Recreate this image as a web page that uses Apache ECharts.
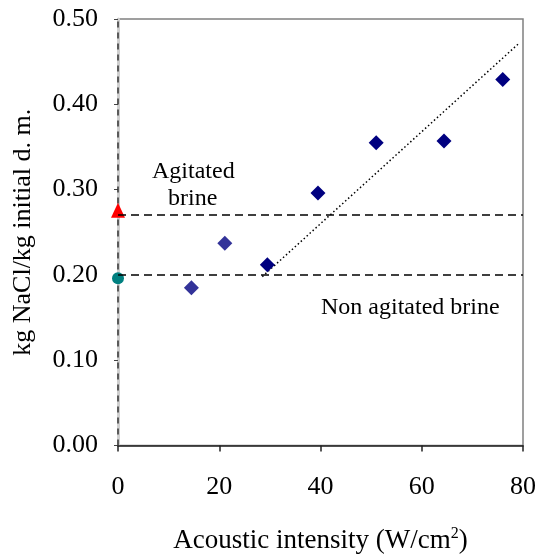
<!DOCTYPE html>
<html>
<head>
<meta charset="utf-8">
<script src="https://cdn.jsdelivr.net/npm/echarts@6/dist/echarts.min.js"></script>
<style>
  html, body { margin: 0; padding: 0; background: #fff; }
  #chart { width: 539px; height: 559px; }
</style>
</head>
<body>
<div id="chart"></div>
<script>
// measured points, first two lighter
var lowPoints = [[14.5, 0.185], [21.1, 0.237]];
var highPoints = [[29.5, 0.212], [39.5, 0.296], [51.0, 0.355], [64.4, 0.357], [76.0, 0.429]];
// trend line ends
var trendLine = [[28.5, 0.198], [79.3, 0.472]];
// reference levels at zero intensity
var agitated = [[0, 0.27]];
var nonAgitated = [[0, 0.196]];
var agitatedLevel = 0.27;
var nonAgitatedLevel = 0.197;

var font = 'Liberation Serif';
var chart = echarts.init(document.getElementById('chart'));

var option = {
  animation: false,
  grid: {
    left: 118, right: 14, top: 19, bottom: 112,
    show: true, borderColor: '#808080', borderWidth: 1.5
  },
  xAxis: {
    type: 'value',
    min: 0, max: 80, interval: 20,
    name: 'Acoustic intensity (W/cm{sup|2})',
    nameLocation: 'middle',
    nameGap: 80,
    nameTextStyle: {
      fontFamily: font, fontSize: 27, color: '#000',
      rich: { sup: { fontFamily: font, fontSize: 16, verticalAlign: 'top', padding: [0, 0, 14, 0] } }
    },
    splitLine: { show: false },
    axisLine: { lineStyle: { color: '#222', width: 1.5 } },
    axisTick: { inside: false, length: 6, lineStyle: { color: '#222', width: 1.5 } },
    axisLabel: { fontFamily: font, fontSize: 26, color: '#000', margin: 29 }
  },
  yAxis: {
    type: 'value',
    min: 0, max: 0.5, interval: 0.1,
    name: 'kg NaCl/kg initial d. m.',
    nameLocation: 'middle',
    nameGap: 82,
    nameTextStyle: { fontFamily: font, fontSize: 26, color: '#000' },
    splitLine: { show: false },
    axisLine: { lineStyle: { color: '#cfcfcf', width: 3 } },
    axisTick: { length: 4, lineStyle: { color: '#444', width: 1 } },
    axisLabel: {
      fontFamily: font, fontSize: 26, color: '#000', margin: 20,
      formatter: function (v) { return v.toFixed(2); }
    }
  },
  series: [
    {
      type: 'line',
      data: [[0, 0], [0, 0.5]],
      symbol: 'none',
      lineStyle: { color: '#333', width: 1.5, type: [6, 5] },
      markLine: {
        silent: true,
        symbol: 'none',
        label: { show: false },
        lineStyle: { color: '#000', width: 1.6, type: [8, 5] },
        data: [{ yAxis: agitatedLevel }, { yAxis: nonAgitatedLevel }]
      },
      z: 1
    },
    {
      type: 'line',
      data: trendLine,
      symbol: 'none',
      lineStyle: { color: '#000', width: 1.5, type: [1.5, 2.5] },
      z: 2
    },
    {
      type: 'scatter',
      data: lowPoints,
      symbol: 'diamond',
      symbolSize: 15,
      itemStyle: { color: '#333399', opacity: 1 },
      z: 3
    },
    {
      type: 'scatter',
      data: highPoints,
      symbol: 'diamond',
      symbolSize: 15,
      itemStyle: { color: '#000080', opacity: 1 },
      z: 3
    },
    {
      type: 'scatter',
      data: agitated,
      symbol: 'triangle',
      symbolSize: [14, 15],
      symbolOffset: [0, -5],
      itemStyle: { color: '#ff0000', opacity: 1 },
      clip: false,
      z: 4
    },
    {
      type: 'scatter',
      data: nonAgitated,
      symbol: 'circle',
      symbolSize: 12,
      itemStyle: { color: '#008080', opacity: 1 },
      clip: false,
      z: 4
    }
  ],
  graphic: [
    {
      type: 'text', left: 152, top: 160,
      style: { text: 'Agitated', font: '24px ' + font, fill: '#000' }
    },
    {
      type: 'text', left: 168, top: 187,
      style: { text: 'brine', font: '24px ' + font, fill: '#000' }
    },
    {
      type: 'text', left: 321, top: 296,
      style: { text: 'Non agitated brine', font: '24px ' + font, fill: '#000' }
    }
  ]
};

chart.setOption(option);
</script>
</body>
</html>
